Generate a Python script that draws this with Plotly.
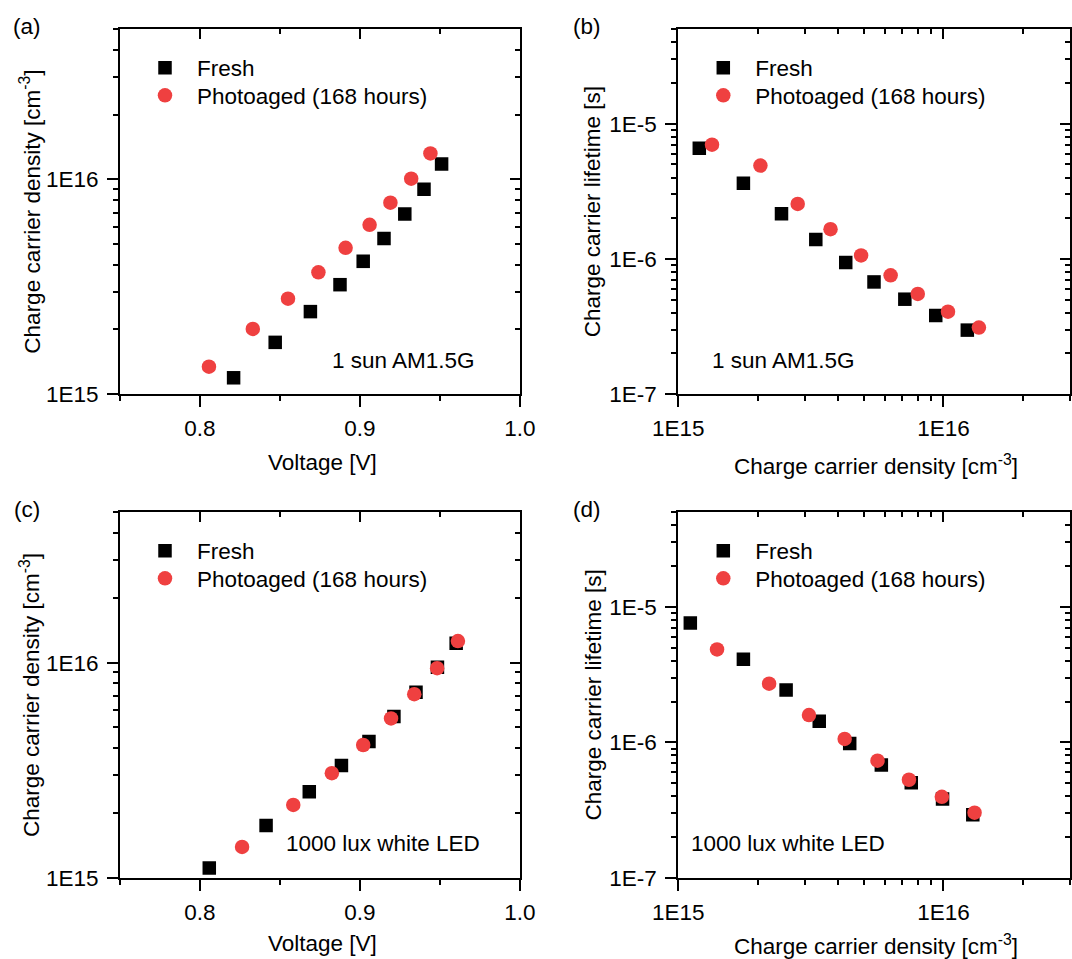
import numpy as np
import plotly.graph_objects as go

# ---------------- data ----------------
# (a) 1 sun AM1.5G: charge carrier density vs voltage
a_fresh_v = [0.821, 0.847, 0.869, 0.8875, 0.902, 0.915, 0.928, 0.940, 0.951]
a_fresh_n = [1.19e15, 1.74e15, 2.42e15, 3.23e15, 4.15e15, 5.3e15, 6.9e15, 9.0e15, 1.18e16]
a_aged_v = [0.8056, 0.833, 0.855, 0.874, 0.891, 0.906, 0.919, 0.932, 0.944]
a_aged_n = [1.34e15, 2.01e15, 2.78e15, 3.69e15, 4.8e15, 6.14e15, 7.78e15, 1.007e16, 1.32e16]

# (b) 1 sun AM1.5G: carrier lifetime vs density
b_fresh_n = [1.2e15, 1.76e15, 2.45e15, 3.3e15, 4.28e15, 5.47e15, 7.15e15, 9.35e15, 1.23e16]
b_fresh_tau = [6.6e-6, 3.63e-6, 2.16e-6, 1.39e-6, 9.4e-7, 6.75e-7, 5.03e-7, 3.81e-7, 2.97e-7]
b_aged_n = [1.34e15, 2.04e15, 2.82e15, 3.75e15, 4.89e15, 6.32e15, 8.0e15, 1.04e16, 1.36e16]
b_aged_tau = [7.0e-6, 4.9e-6, 2.55e-6, 1.66e-6, 1.06e-6, 7.55e-7, 5.5e-7, 4.07e-7, 3.1e-7]

# (c) 1000 lux white LED: charge carrier density vs voltage
c_fresh_v = [0.8058, 0.8413, 0.8683, 0.8884, 0.9056, 0.9212, 0.935, 0.9484, 0.9601]
c_fresh_n = [1.11e15, 1.75e15, 2.51e15, 3.32e15, 4.3e15, 5.61e15, 7.28e15, 9.52e15, 1.23e16]
c_aged_v = [0.8263, 0.8583, 0.8824, 0.902, 0.9194, 0.9339, 0.9482, 0.9612]
c_aged_n = [1.39e15, 2.18e15, 3.06e15, 4.14e15, 5.5e15, 7.13e15, 9.42e15, 1.26e16]

# (d) 1000 lux white LED: carrier lifetime vs density
d_fresh_n = [1.11e15, 1.76e15, 2.55e15, 3.4e15, 4.43e15, 5.83e15, 7.56e15, 9.92e15, 1.29e16]
d_fresh_tau = [7.62e-6, 4.11e-6, 2.43e-6, 1.43e-6, 9.8e-7, 6.79e-7, 5.03e-7, 3.81e-7, 2.92e-7]
d_aged_n = [1.4e15, 2.2e15, 3.11e15, 4.24e15, 5.64e15, 7.41e15, 9.86e15, 1.31e16]
d_aged_tau = [4.85e-6, 2.71e-6, 1.59e-6, 1.06e-6, 7.31e-7, 5.29e-7, 3.96e-7, 3.02e-7]

series_names = ["Fresh", "Photoaged (168 hours)"]
conditions = ["1 sun AM1.5G", "1 sun AM1.5G", "1000 lux white LED", "1000 lux white LED"]
panel_tags = ["(a)", "(b)", "(c)", "(d)"]

volt_ticks = [0.8, 0.9, 1.0]
volt_ticktext = ["0.8", "0.9", "1.0"]
volt_minor = [0.75, 0.85, 0.95]
dens_ticks = [1e15, 1e16]
dens_ticktext = ["1E15", "1E16"]
tau_ticks = [1e-7, 1e-6, 1e-5]
tau_ticktext = ["1E-7", "1E-6", "1E-5"]

# ---------------- styling ----------------
W, H = 1072, 959
FONT = "Liberation Sans, Arial, sans-serif"
FS = 22.5
BLACK = "#000000"
RED = "#EF4040"


def fx(p):
    return p / W


def fy(p):
    return 1 - p / H


def log_minor(lo_exp, hi_exp, top=None):
    vals = []
    for e in range(lo_exp, hi_exp + 1):
        for m in range(2, 10):
            v = m * 10.0 ** e
            if top is not None and v > top * 1.0001:
                continue
            vals.append(v)
    return vals


dens_minor_y = log_minor(15, 16, top=5e16)
dens_minor_x = log_minor(15, 16, top=3e16)
tau_minor = log_minor(-7, -5, top=5e-5)

# panel boxes in pixels: (left, right, top, bottom)
boxes = [
    (120, 520, 29.3, 394),
    (678.3, 1070, 29.3, 394),
    (120, 520, 512.3, 877.7),
    (678.3, 1070, 512.3, 877.7),
]

panels = [
    (a_fresh_v, a_fresh_n, a_aged_v, a_aged_n),
    (b_fresh_n, b_fresh_tau, b_aged_n, b_aged_tau),
    (c_fresh_v, c_fresh_n, c_aged_v, c_aged_n),
    (d_fresh_n, d_fresh_tau, d_aged_n, d_aged_tau),
]

fig = go.Figure()
layout = {}
annotations = []
legend_font = dict(family=FONT, size=FS, color=BLACK)

for i, (fxv, fyv, axv, ayv) in enumerate(panels):
    k = i + 1
    xa = "x" if k == 1 else f"x{k}"
    ya = "y" if k == 1 else f"y{k}"
    leg_f = "legend" if k == 1 else f"legend{k}"
    leg_p = f"legend{k + 4}"
    fig.add_trace(go.Scatter(
        x=fxv, y=fyv, mode="markers", name=series_names[0], showlegend=True,
        marker=dict(symbol="square", size=13.5, color=BLACK, line=dict(width=0)),
        xaxis=xa, yaxis=ya, legend=leg_f,
    ))
    fig.add_trace(go.Scatter(
        x=axv, y=ayv, mode="markers", name=series_names[1], showlegend=True,
        marker=dict(symbol="circle", size=14.5, color=RED, line=dict(width=0)),
        xaxis=xa, yaxis=ya, legend=leg_p,
    ))
    # overlay axes carrying the inward ticks on the top and right edges
    xt = f"x{k + 4}"
    yr = f"y{k + 4}"
    fig.add_trace(go.Scatter(x=[], y=[], xaxis=xt, yaxis=ya, showlegend=False, hoverinfo="skip"))
    fig.add_trace(go.Scatter(x=[], y=[], xaxis=xa, yaxis=yr, showlegend=False, hoverinfo="skip"))

    l, r, t, b = boxes[i]
    xdom = [fx(l), fx(r)]
    ydom = [fy(b), fy(t)]

    is_volt = i in (0, 2)
    if is_volt:
        xtype, xrange = "linear", [0.75, 1.0]
        xt_vals, xt_text, xminor = volt_ticks, volt_ticktext, volt_minor
        ytype, yrange = "log", [15, np.log10(5e16)]
        yt_vals, yt_text, yminor = dens_ticks, dens_ticktext, dens_minor_y
    else:
        xtype, xrange = "log", [15, np.log10(3e16)]
        xt_vals, xt_text, xminor = dens_ticks, dens_ticktext, dens_minor_x
        ytype, yrange = "log", [-7, np.log10(5e-5)]
        yt_vals, yt_text, yminor = tau_ticks, tau_ticktext, tau_minor

    base = dict(showgrid=False, zeroline=False, linecolor=BLACK, linewidth=2,
                tickcolor=BLACK, tickwidth=2, automargin=False,
                tickfont=dict(family=FONT, size=FS, color=BLACK))

    xkey = "xaxis" if k == 1 else f"xaxis{k}"
    ykey = "yaxis" if k == 1 else f"yaxis{k}"
    layout[xkey] = dict(base, domain=xdom, anchor=ya, type=xtype, range=xrange,
                        showline=True, mirror=True, ticks="outside", ticklen=11,
                        tickvals=xt_vals, ticktext=xt_text, ticklabelstandoff=2,
                        minor=dict(tickvals=xminor, ticks="outside", ticklen=5,
                                   tickwidth=2, tickcolor=BLACK, showgrid=False))
    layout[ykey] = dict(base, domain=ydom, anchor=xa, type=ytype, range=yrange,
                        showline=True, mirror=True, ticks="outside", ticklen=11,
                        tickvals=yt_vals, ticktext=yt_text, ticklabelstandoff=4,
                        minor=dict(tickvals=yminor, ticks="outside", ticklen=5,
                                   tickwidth=2, tickcolor=BLACK, showgrid=False))
    layout[f"xaxis{k + 4}"] = dict(base, overlaying=xa, anchor=ya, side="top",
                                   type=xtype, range=xrange, showline=False,
                                   ticks="inside", ticklen=10, tickvals=xt_vals,
                                   showticklabels=False,
                                   minor=dict(tickvals=xminor, ticks="inside", ticklen=5,
                                              tickwidth=2, tickcolor=BLACK, showgrid=False))
    layout[f"yaxis{k + 4}"] = dict(base, overlaying=ya, anchor=xa, side="right",
                                   type=ytype, range=yrange, showline=False,
                                   ticks="inside", ticklen=10, tickvals=yt_vals,
                                   showticklabels=False,
                                   minor=dict(tickvals=yminor, ticks="inside", ticklen=5,
                                              tickwidth=2, tickcolor=BLACK, showgrid=False))

    # one legend row per series, inside the upper-left of each panel
    sym_x = l + 46
    for leg_id, row_y in ((leg_f, t + 38.7), (leg_p, t + 66.4)):
        layout[leg_id] = dict(
            visible=True,
            x=fx(sym_x - 33), y=fy(row_y), xanchor="left", yanchor="middle",
            bgcolor="rgba(0,0,0,0)", borderwidth=0, itemwidth=54,
            font=legend_font, tracegroupgap=0,
        )

    # axis titles, condition label and panel tag
    cx = (l + r) / 2
    cy = (t + b) / 2
    if is_volt:
        xtitle = "Voltage [V]"
        ytitle = "Charge carrier density [cm<sup>-3</sup>]"
        ytitle_x = 30
        cond_x = 330 if i == 0 else 284
        xtitle_off = 68 if i == 0 else 66
    else:
        xtitle = "Charge carrier density [cm<sup>-3</sup>]"
        ytitle = "Charge carrier lifetime [s]"
        ytitle_x = 592.6
        cond_x = 709.7 if i == 1 else 689
        xtitle_off = 71 if i == 1 else 67
    annotations.append(dict(x=fx(cx + 2), y=fy(b + xtitle_off), xref="paper", yref="paper",
                            text=xtitle, showarrow=False, xanchor="center", yanchor="middle",
                            font=dict(family=FONT, size=FS, color=BLACK)))
    annotations.append(dict(x=fx(ytitle_x), y=fy(cy), xref="paper", yref="paper",
                            text=ytitle, showarrow=False, textangle=-90,
                            xanchor="center", yanchor="middle",
                            font=dict(family=FONT, size=FS, color=BLACK)))
    annotations.append(dict(x=fx(cond_x), y=fy(b - 34), xref="paper", yref="paper",
                            text=conditions[i], showarrow=False, xanchor="left",
                            yanchor="middle",
                            font=dict(family=FONT, size=FS, color=BLACK)))
    tag_x = 27 if is_volt else 587
    annotations.append(dict(x=fx(tag_x), y=fy(t - 3), xref="paper", yref="paper",
                            text=panel_tags[i], showarrow=False, xanchor="center",
                            yanchor="middle",
                            font=dict(family=FONT, size=FS, color=BLACK)))

fig.update_layout(
    template="none",
    showlegend=True,
    width=W, height=H,
    margin=dict(l=0, r=0, t=0, b=0, pad=0),
    paper_bgcolor="white", plot_bgcolor="white",
    annotations=annotations,
    **layout,
)

fig.write_html("out.html")
